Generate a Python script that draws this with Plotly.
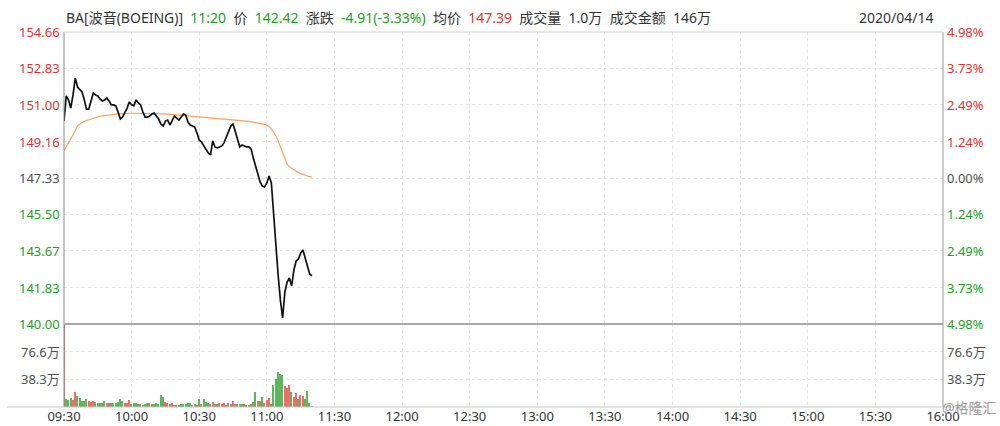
import plotly.graph_objects as go
from plotly.subplots import make_subplots

# ---------------- data ----------------
minutes = list(range(111))  # 09:30 .. 11:20

price = [150.19, 151.45, 151.25, 150.84, 151.50, 152.35, 151.90, 151.80, 151.65, 151.25,
         150.79, 150.79, 151.20, 151.60, 151.50, 151.45, 151.30, 151.20, 151.25, 151.35,
         151.20, 151.00, 151.00, 150.95, 150.64, 150.29, 150.39, 150.59, 150.84, 151.15,
         151.00, 150.95, 151.25, 151.10, 151.00, 150.64, 150.39, 150.39, 150.44, 150.54,
         150.59, 150.44, 150.29, 150.04, 149.94, 150.19, 150.24, 149.99, 150.24, 150.44,
         150.34, 150.24, 150.39, 150.54, 150.49, 150.14, 149.99, 149.94, 149.89, 149.59,
         149.24, 149.14, 148.94, 148.74, 148.59, 148.49, 149.19, 148.89, 148.84, 148.89,
         148.94, 149.09, 149.39, 149.74, 149.94, 150.04, 149.64, 149.19, 148.89, 148.99,
         148.94, 148.89, 148.89, 148.79, 148.33, 147.93, 147.43, 147.13, 146.93, 146.88,
         147.08, 147.43, 147.08, 145.47, 144.07, 142.46, 141.21, 140.30, 141.61, 142.11,
         142.31, 141.91, 142.71, 143.16, 143.26, 143.56, 143.72, 143.31, 142.81, 142.51,
         142.42]

avg_price = [148.70, 148.90, 149.10, 149.30, 149.45, 149.70, 149.95, 150.05, 150.12, 150.18,
             150.22, 150.26, 150.30, 150.33, 150.36, 150.40, 150.43, 150.45, 150.47, 150.49,
             150.51, 150.52, 150.53, 150.54, 150.55, 150.56, 150.57, 150.57, 150.58, 150.58,
             150.58, 150.58, 150.58, 150.58, 150.58, 150.58, 150.58, 150.58, 150.58, 150.57,
             150.57, 150.57, 150.56, 150.56, 150.55, 150.55, 150.54, 150.53, 150.52, 150.51,
             150.50, 150.49, 150.48, 150.47, 150.46, 150.45, 150.45, 150.44, 150.44, 150.43,
             150.42, 150.41, 150.40, 150.39, 150.37, 150.36, 150.35, 150.34, 150.32, 150.31,
             150.30, 150.29, 150.28, 150.27, 150.26, 150.25, 150.24, 150.23, 150.22, 150.21,
             150.20, 150.19, 150.17, 150.15, 150.13, 150.12, 150.10, 150.08, 150.05, 150.02,
             149.98, 149.92, 149.80, 149.65, 149.45, 149.20, 148.90, 148.55, 148.25, 148.02,
             147.90, 147.82, 147.74, 147.66, 147.60, 147.55, 147.50, 147.46, 147.43, 147.40,
             147.38]

# volume in 万 (10k shares)
volume = [114.9, 11.4, 9.6, 12.8, 9.6, 21.0, 15.0, 12.8, 8.2, 9.0,
          10.5, 8.2, 6.8, 9.0, 7.3, 6.0, 6.0, 6.0, 8.2, 6.0,
          6.0, 6.0, 5.0, 5.0, 6.8, 10.5, 8.2, 5.0, 5.0, 9.6,
          4.6, 6.0, 6.0, 4.6, 3.6, 2.7, 4.6, 5.0, 6.0, 4.6,
          4.6, 6.0, 3.6, 17.3, 14.2, 7.3, 6.0, 4.6, 5.0, 2.7,
          2.7, 2.7, 4.6, 4.6, 4.6, 5.0, 5.0, 2.7, 3.6, 2.7,
          10.5, 3.6, 10.5, 6.8, 5.9, 4.6, 7.3, 3.6, 4.6, 5.0,
          3.6, 5.9, 2.7, 5.9, 4.6, 8.2, 4.6, 3.6, 4.6, 4.6,
          4.6, 1.4, 2.3, 3.6, 6.8, 21.0, 8.2, 8.2, 13.7, 6.0,
          9.6, 12.8, 4.5, 30.0, 38.8, 47.9, 45.6, 44.7, 28.7, 26.4,
          31.0, 20.5, 14.1, 19.6, 10.5, 16.0, 15.0, 10.5, 21.9, 6.0,
          1.2]

# r = up (red), g = down (green); one string per 10 minutes
vol_dir = ("rgggrrgggg" "grrrgggggr" "rggggggrrr" "gggrggggrg" "gggggrrgrr"
           "rggggggrgr" "grgggrrggr" "rrrrgrrggg" "rggrggrggr" "rrggggggrr"
           "rgrrgrrgggg")

tick_minutes = [0, 30, 60, 90, 120, 150, 180, 210, 240, 270, 300, 330, 360, 390]
tick_text = ["09:30", "10:00", "10:30", "11:00", "11:30", "12:00", "12:30",
             "13:00", "13:30", "14:00", "14:30", "15:00", "15:30", "16:00"]

price_ticks = [140.00, 141.83, 143.67, 145.50, 147.33, 149.16, 151.00, 152.83, 154.66]
pct_labels = ["4.98%", "3.73%", "2.49%", "1.24%", "0.00%", "1.24%", "2.49%", "3.73%", "4.98%"]
prev_close = 147.33

vol_ticks = [38.3, 76.6]
vol_labels = ["38.3万", "76.6万"]
vol_max = 114.9

# ---------------- style ----------------
RED = "#e2322f"
GREEN = "#23a023"
GRAY = "#505050"
BAR_RED = "#f26a6a"
BAR_GREEN = "#5db65d"
FONT = "Noto Sans, Noto Sans CJK SC, sans-serif"

bar_colors = [BAR_RED if c == "r" else BAR_GREEN for c in vol_dir]

split = 83 / 375.0

fig = make_subplots(rows=2, cols=1, shared_xaxes=False, vertical_spacing=0,
                    row_heights=[1 - split, split])

fig.add_trace(go.Scatter(x=minutes, y=avg_price, mode="lines",
                         line=dict(color="#f5a25c", width=1.2), hoverinfo="skip"), row=1, col=1)
fig.add_trace(go.Scatter(x=minutes, y=price, mode="lines",
                         line=dict(color="#111111", width=1.7)), row=1, col=1)
fig.add_trace(go.Bar(x=minutes, y=volume, marker=dict(color=bar_colors, line=dict(width=0)),
                     width=0.62), row=2, col=1)

grid = dict(showgrid=True, gridcolor="#e2e2e2", griddash="dot", gridwidth=1, zeroline=False,
            automargin=False)

fig.update_xaxes(range=[0, 390], tickvals=tick_minutes, ticktext=tick_text, **grid)
fig.update_xaxes(showticklabels=False, row=1, col=1)
fig.update_xaxes(showticklabels=True, ticks="", tickfont=dict(family=FONT, size=13, color="#333"),
                 row=2, col=1)
fig.update_yaxes(range=[price_ticks[0], price_ticks[-1]], tickvals=price_ticks,
                 showticklabels=False, row=1, col=1, **grid)
fig.update_yaxes(range=[0, vol_max], tickvals=vol_ticks, showticklabels=False,
                 row=2, col=1, **grid)
fig.update_layout(yaxis=dict(domain=[split, 1]), yaxis2=dict(domain=[0, split]))

ann = []
for p, pct in zip(price_ticks, pct_labels):
    col = RED if p > prev_close + 1e-6 else (GREEN if p < prev_close - 1e-6 else GRAY)
    ann.append(dict(x=0, xref="paper", y=p, yref="y", text=f"{p:.2f}", showarrow=False,
                    xanchor="right", yanchor="middle", xshift=-2,
                    font=dict(family=FONT, size=13, color=col)))
    ann.append(dict(x=1, xref="paper", y=p, yref="y", text=pct, showarrow=False,
                    xanchor="left", yanchor="middle", xshift=2,
                    font=dict(family=FONT, size=13, color=col)))
for v, lab in zip(vol_ticks, vol_labels):
    for xp, xa, xs in [(0, "right", -2), (1, "left", 2)]:
        ann.append(dict(x=xp, xref="paper", y=v, yref="y2", text=lab, showarrow=False,
                        xanchor=xa, yanchor="middle", xshift=xs,
                        font=dict(family=FONT, size=13, color=GRAY)))

sp = "&nbsp;&nbsp;"
header = (f"BA[波音(BOEING)]{sp}<span style='color:{GREEN}'>11:20</span>{sp}价{sp}"
          f"<span style='color:{GREEN}'>142.42</span>{sp}涨跌{sp}"
          f"<span style='color:{GREEN}'>-4.91(-3.33%)</span>{sp}均价{sp}"
          f"<span style='color:{RED}'>147.39</span>{sp}成交量{sp}1.0万{sp}成交金额{sp}146万")
ann.append(dict(x=0, xref="paper", y=1, yref="paper", yshift=15, text=header, showarrow=False,
                xanchor="left", yanchor="middle", font=dict(family=FONT, size=14, color="#333")))
ann.append(dict(x=0.991, xref="paper", y=1, yref="paper", yshift=15, text="2020/04/14",
                showarrow=False, xanchor="right", yanchor="middle",
                font=dict(family=FONT, size=14, color="#333")))
ann.append(dict(x=1, xref="paper", y=0, yref="paper", yshift=0, xshift=-3, text="@格隆汇",
                showarrow=False, xanchor="left", yanchor="middle",
                font=dict(family=FONT, size=14, color="#9a9a9a")))

shapes = [
    dict(type="line", xref="paper", yref="paper", x0=0, x1=0, y0=0, y1=1,
         line=dict(color="#8a8a8a", width=1)),
    dict(type="line", xref="paper", yref="paper", x0=1, x1=1, y0=0, y1=1,
         line=dict(color="#9a9a9a", width=1)),
    dict(type="line", xref="paper", yref="paper", x0=0, x1=1, y0=1, y1=1,
         line=dict(color="#d0d0d0", width=1)),
    dict(type="line", xref="paper", yref="paper", x0=0, x1=1, y0=split, y1=split,
         line=dict(color="#a8a8a8", width=2)),
    dict(type="line", xref="paper", yref="paper", x0=-0.065, x1=1.052, y0=0, y1=0,
         line=dict(color="#c8c8c8", width=1)),
]

fig.update_layout(width=1000, height=426, margin=dict(l=64, r=57, t=32, b=19, autoexpand=False),
                  paper_bgcolor="white", plot_bgcolor="white", showlegend=False,
                  bargap=0, annotations=ann, shapes=shapes,
                  font=dict(family=FONT, size=12, color="#333"))

fig.write_html("out.html", config={"displayModeBar": False},
               post_script="document.body.style.margin='0';document.body.style.overflow='hidden';")
